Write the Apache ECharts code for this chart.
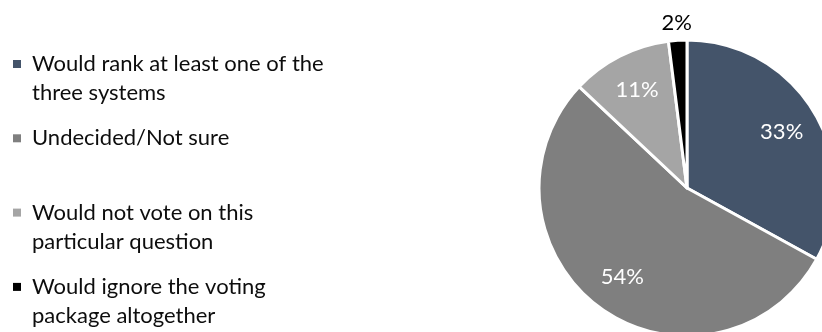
<!DOCTYPE html>
<html>
<head>
<meta charset="utf-8">
<script src="https://cdn.jsdelivr.net/npm/echarts@6/dist/echarts.min.js"></script>
<style>
  html, body { margin: 0; padding: 0; background: #ffffff; }
  #chart { width: 822px; height: 332px; }
</style>
</head>
<body>
<div id="chart"></div>
<script>
// Survey responses (percent of respondents)
const categories = [
  'Would rank at least one of the\nthree systems',
  'Undecided/Not sure',
  'Would not vote on this\nparticular question',
  'Would ignore the voting\npackage altogether'
];
const shares = [33, 54, 11, 2];
const sliceColors = ['#44546A', '#7F7F7F', '#A5A5A5', '#000000'];
const labelColors = ['#ffffff', '#ffffff', '#ffffff', '#000000'];

const FONT = 'Lato, "Noto Sans", sans-serif';
const FONT_SIZE = 22;
const LINE_H = 29;
const CENTER = [687, 188];
const RADIUS = 148;
const SMALL_SLICE = 5; // slices below this share get their label outside the pie

const pieData = categories.map((name, i) => ({
  name,
  value: shares[i],
  itemStyle: { color: sliceColors[i] }
}));

// label-only rings: same angles as the pie, invisible fills
function labelRing(radius, showFn) {
  return {
    type: 'pie',
    silent: true,
    center: CENTER,
    radius: radius,
    startAngle: 90,
    clockwise: true,
    animation: false,
    itemStyle: { color: 'rgba(0,0,0,0)', borderWidth: 0 },
    labelLine: { show: false },
    data: categories.map((name, i) => ({
      name,
      value: shares[i],
      label: {
        show: showFn(shares[i]),
        position: 'inside',
        formatter: '{c}%',
        color: labelColors[i],
        fontFamily: FONT,
        fontSize: FONT_SIZE
      }
    }))
  };
}

// Legend entries are all three lines tall; the marker sits on the first text line.
// Two-line names get a blank leading line, one-line names get padding instead.
const legendData = categories.map(name => {
  const lines = name.split('\n').length;
  const pad = lines === 1 ? LINE_H : 0;
  return {
    name,
    textStyle: { padding: [pad, 0, pad, 6] }
  };
});

const chart = echarts.init(document.getElementById('chart'), null, { renderer: 'canvas' });
chart.setOption({
  animation: false,
  backgroundColor: '#ffffff',
  legend: {
    orient: 'vertical',
    left: 13,
    top: 20.5,
    padding: 0,
    itemGap: -12.7,
    itemWidth: 8,
    itemHeight: 8,
    icon: 'rect',
    itemStyle: { borderWidth: 0 },
    selectedMode: false,
    formatter: name => (name.indexOf('\n') >= 0 ? '\n' + name : name),
    textStyle: {
      fontFamily: FONT,
      fontSize: FONT_SIZE,
      lineHeight: LINE_H,
      color: '#0d0d0d'
    },
    data: legendData
  },
  series: [
    {
      type: 'pie',
      center: CENTER,
      radius: RADIUS,
      startAngle: 90,
      clockwise: true,
      animation: false,
      itemStyle: { borderColor: '#ffffff', borderWidth: 3 },
      label: { show: false },
      labelLine: { show: false },
      emphasis: { disabled: true },
      data: pieData
    },
    labelRing(214, v => v >= SMALL_SLICE),
    labelRing(324, v => v < SMALL_SLICE)
  ]
});
</script>
</body>
</html>
